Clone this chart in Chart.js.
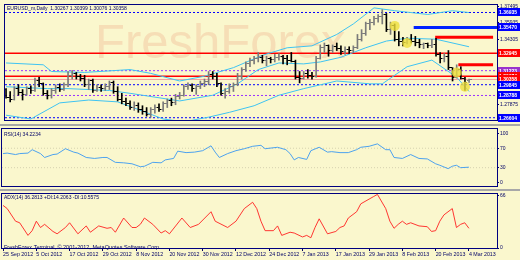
<!DOCTYPE html>
<html>
<head>
<meta charset="utf-8">
<script src="https://cdn.jsdelivr.net/npm/chart.js@4.4.1/dist/chart.umd.min.js"></script>
<style>
  body { margin: 0; width: 520px; height: 260px; overflow: hidden; position: relative; background: #FAF7CD; }
  canvas { position: absolute; left: 0; }
  #main { top: 0; }
  #rsi { top: 125px; }
  #adx { top: 190px; }
  .sep { position: absolute; left: 0; width: 520px; height: 2px; background: #A8A8A8; }
</style>
</head>
<body>
<div class="sep" style="top:124px"></div>
<div class="sep" style="top:189px"></div>
<canvas id="main" width="520" height="125"></canvas>
<canvas id="rsi" width="520" height="65"></canvas>
<canvas id="adx" width="520" height="70"></canvas>
<script>
// ---- data ----
const tickBars = [0, 8, 16, 24, 32, 40, 48, 56, 64, 72, 80, 88, 96, 104, 112];
const tickLabels = ['25 Sep 2012', '5 Oct 2012', '17 Oct 2012', '29 Oct 2012', '8 Nov 2012', '20 Nov 2012',
  '30 Nov 2012', '12 Dec 2012', '24 Dec 2012', '7 Jan 2013', '17 Jan 2013', '29 Jan 2013',
  '8 Feb 2013', '20 Feb 2013', '4 Mar 2013'];

const opens = [
  1.2937, 1.2862, 1.2844, 1.2946, 1.2909, 1.2890, 1.2946, 1.2928, 1.3021, 1.2993,
  1.2900, 1.2881, 1.2928, 1.2956, 1.2937, 1.2984, 1.3077, 1.3096, 1.3068, 1.3049,
  1.2984, 1.3021, 1.2928, 1.2956, 1.2946, 1.2965, 1.3002, 1.2918, 1.2844, 1.2816,
  1.2797, 1.2760, 1.2778, 1.2741, 1.2722, 1.2694, 1.2741, 1.2760, 1.2741, 1.2797,
  1.2825, 1.2806, 1.2872, 1.2881, 1.2965, 1.2974, 1.2946, 1.2965, 1.2993, 1.3012,
  1.3086, 1.3068, 1.2993, 1.2900, 1.2918, 1.2965, 1.2984, 1.3068, 1.3133, 1.3189,
  1.3226, 1.3245, 1.3254, 1.3226, 1.3245, 1.3236, 1.3254, 1.3264, 1.3245, 1.3226,
  1.3217, 1.3058, 1.3049, 1.3096, 1.3077, 1.3068, 1.3245, 1.3347, 1.3366, 1.3320,
  1.3357, 1.3338, 1.3310, 1.3329, 1.3320, 1.3347, 1.3431, 1.3487, 1.3581, 1.3599,
  1.3637, 1.3655, 1.3674, 1.3525, 1.3562, 1.3431, 1.3413, 1.3403, 1.3431, 1.3413,
  1.3394, 1.3375, 1.3385, 1.3366, 1.3375, 1.3282, 1.3245, 1.3264, 1.3152, 1.3058,
  1.3133, 1.3049, 1.3027];
const highs = [
  1.2946, 1.2918, 1.2965, 1.2984, 1.2937, 1.2965, 1.2974, 1.3049, 1.3058, 1.3002,
  1.2928, 1.2946, 1.2984, 1.2993, 1.3002, 1.3114, 1.3124, 1.3105, 1.3086, 1.3077,
  1.3040, 1.3040, 1.2984, 1.2984, 1.2993, 1.3021, 1.3021, 1.2965, 1.2900, 1.2853,
  1.2825, 1.2816, 1.2806, 1.2778, 1.2760, 1.2760, 1.2788, 1.2797, 1.2816, 1.2844,
  1.2853, 1.2890, 1.2909, 1.2984, 1.3002, 1.2993, 1.2984, 1.3021, 1.3040, 1.3114,
  1.3114, 1.3096, 1.3002, 1.2946, 1.2993, 1.3002, 1.3096, 1.3152, 1.3208, 1.3245,
  1.3264, 1.3301, 1.3273, 1.3264, 1.3254, 1.3282, 1.3291, 1.3273, 1.3273, 1.3301,
  1.3226, 1.3114, 1.3114, 1.3133, 1.3105, 1.3264, 1.3375, 1.3394, 1.3375, 1.3375,
  1.3394, 1.3366, 1.3357, 1.3357, 1.3366, 1.3478, 1.3525, 1.3599, 1.3627, 1.3655,
  1.3674, 1.3721, 1.3684, 1.3599, 1.3581, 1.3506, 1.3450, 1.3450, 1.3478, 1.3459,
  1.3431, 1.3394, 1.3394, 1.3431, 1.3441, 1.3301, 1.3291, 1.3320, 1.3152, 1.3180,
  1.3161, 1.3058, 1.3040];
const lows = [
  1.2853, 1.2816, 1.2834, 1.2881, 1.2834, 1.2881, 1.2900, 1.2918, 1.2965, 1.2881,
  1.2844, 1.2853, 1.2900, 1.2918, 1.2928, 1.2965, 1.3040, 1.3040, 1.3021, 1.2965,
  1.2937, 1.2909, 1.2918, 1.2918, 1.2928, 1.2937, 1.2900, 1.2825, 1.2797, 1.2778,
  1.2741, 1.2732, 1.2713, 1.2694, 1.2676, 1.2666, 1.2704, 1.2722, 1.2722, 1.2760,
  1.2778, 1.2788, 1.2844, 1.2872, 1.2937, 1.2918, 1.2890, 1.2946, 1.2965, 1.2984,
  1.3040, 1.2965, 1.2881, 1.2853, 1.2900, 1.2918, 1.2974, 1.3040, 1.3114, 1.3161,
  1.3189, 1.3208, 1.3198, 1.3170, 1.3198, 1.3208, 1.3226, 1.3189, 1.3180, 1.3208,
  1.3040, 1.3002, 1.3040, 1.3049, 1.3040, 1.3058, 1.3236, 1.3301, 1.3264, 1.3301,
  1.3320, 1.3282, 1.3282, 1.3291, 1.3301, 1.3338, 1.3413, 1.3469, 1.3525, 1.3571,
  1.3599, 1.3581, 1.3506, 1.3478, 1.3413, 1.3366, 1.3366, 1.3385, 1.3394, 1.3366,
  1.3347, 1.3338, 1.3347, 1.3347, 1.3264, 1.3198, 1.3208, 1.3133, 1.3021, 1.3049,
  1.3040, 1.2928, 1.3008];
const closes = [
  1.2862, 1.2844, 1.2946, 1.2909, 1.2890, 1.2946, 1.2928, 1.3021, 1.2993, 1.2900,
  1.2881, 1.2928, 1.2956, 1.2937, 1.2984, 1.3077, 1.3096, 1.3068, 1.3049, 1.2984,
  1.3021, 1.2928, 1.2956, 1.2946, 1.2965, 1.3002, 1.2918, 1.2844, 1.2816, 1.2797,
  1.2760, 1.2778, 1.2741, 1.2722, 1.2694, 1.2741, 1.2760, 1.2741, 1.2797, 1.2825,
  1.2806, 1.2872, 1.2881, 1.2965, 1.2974, 1.2946, 1.2965, 1.2993, 1.3012, 1.3086,
  1.3068, 1.2993, 1.2900, 1.2918, 1.2965, 1.2984, 1.3068, 1.3133, 1.3189, 1.3226,
  1.3245, 1.3254, 1.3226, 1.3245, 1.3236, 1.3254, 1.3264, 1.3245, 1.3226, 1.3217,
  1.3058, 1.3049, 1.3096, 1.3077, 1.3068, 1.3245, 1.3347, 1.3366, 1.3320, 1.3357,
  1.3338, 1.3310, 1.3329, 1.3320, 1.3347, 1.3431, 1.3487, 1.3581, 1.3599, 1.3637,
  1.3655, 1.3674, 1.3525, 1.3562, 1.3431, 1.3413, 1.3403, 1.3431, 1.3413, 1.3394,
  1.3375, 1.3385, 1.3366, 1.3375, 1.3282, 1.3245, 1.3264, 1.3152, 1.3058, 1.3133,
  1.3049, 1.3002, 1.3036];

// bollinger bands, sampled where they could be read
const upperIdx = [0, 9, 11, 19, 30, 35, 42, 48, 55, 62, 68, 74, 80, 84, 89, 94, 102, 108, 112];
const upperVals = [1.3198, 1.3180, 1.3114, 1.3105, 1.3133, 1.3096, 1.3021, 1.3068, 1.3152, 1.3273,
  1.3347, 1.3366, 1.3478, 1.3581, 1.3739, 1.3711, 1.3674, 1.3711, 1.3693];
const middleIdx = [0, 10, 15, 25, 30, 42, 50, 56, 61, 66, 72, 76, 81, 87, 92, 97, 104, 112];
const middleVals = [1.2965, 1.2946, 1.2946, 1.2928, 1.2900, 1.2825, 1.2881, 1.2993, 1.3133, 1.3198,
  1.3189, 1.3208, 1.3254, 1.3347, 1.3413, 1.3441, 1.3431, 1.3357];
const lowerIdx = [0, 6, 13, 20, 27, 32, 38, 43, 49, 54, 60, 66, 72, 80, 88, 91, 97, 103, 109, 112];
const lowerVals = [1.2685, 1.2648, 1.2806, 1.2834, 1.2816, 1.2741, 1.2648, 1.2620, 1.2666, 1.2713,
  1.2778, 1.2881, 1.2946, 1.3021, 1.2993, 1.2993, 1.3161, 1.3226, 1.3058, 1.2918];

// fractal markers
const circleIdx = [94, 97, 109, 111];
const circleVals = [1.3562, 1.3394, 1.3105, 1.2965];

// horizontal levels
const levelPrices = [1.36935, 1.35470, 1.34500, 1.32945, 1.31800, 1.31223, 1.30674, 1.30358, 1.29845, 1.28788, 1.26604];
const levelFrom = [-0.25, 98.6, 103.8, -0.25, 109.4, -0.25, -0.25, -0.25, -0.25, -0.25, -0.25];
const levelTo = [118.75, 118.75, 117.8, 118.75, 117.8, 118.75, 118.75, 118.75, 118.75, 118.75, 118.75];
const priceTicks = [1.37495, 1.35935, 1.34305, 1.27875];

const rsiIdx = [0, 1, 3, 4, 6, 7, 9, 10, 12, 13, 15, 17, 18, 20, 22, 24, 25, 27, 29, 31,
  33, 34, 36, 38, 39, 41, 42, 44, 46, 48, 50, 51, 52, 54, 56, 58, 60, 62, 63, 66,
  68, 69, 70, 71, 73, 74, 76, 78, 79, 81, 83, 85, 86, 88, 90, 92, 93, 94, 96, 98,
  100, 102, 104, 105, 107, 108, 109, 110, 112];
const rsiVals = [59, 60, 57, 59, 60, 67, 59, 51, 57, 58, 69, 62, 60, 51, 49, 51, 51, 41, 40, 38,
  32, 33, 41, 40, 46, 49, 64, 61, 62, 65, 75, 62, 51, 59, 65, 69, 74, 76, 69, 72,
  67, 59, 46, 51, 47, 65, 72, 62, 63, 61, 61, 67, 72, 74, 79, 67, 67, 51, 49, 57,
  49, 48, 38, 35, 28, 33, 35, 30, 31];
const rsiLevels = [70, 30];
const rsiTicks = [100, 70, 30, 0];

const adxIdx = [0, 1, 3, 4, 6, 7, 8, 9, 10, 12, 13, 15, 16, 18, 20, 21, 23, 25, 26, 27,
  29, 31, 32, 33, 34, 36, 38, 39, 40, 43, 45, 47, 50, 51, 54, 56, 58, 60, 61, 62,
  63, 65, 66, 67, 69, 70, 72, 73, 74, 75, 76, 78, 80, 81, 82, 83, 85, 86, 88, 89,
  90, 92, 93, 94, 95, 96, 97, 98, 100, 102, 103, 104, 105, 106, 108, 109, 110, 111, 112];
const adxVals = [54, 50, 34, 32, 16, 22, 34, 26, 30, 21, 18, 26, 32, 18, 28, 20, 28, 25, 26, 20,
  38, 26, 26, 30, 38, 30, 19, 22, 18, 38, 26, 30, 46, 34, 26, 34, 50, 58, 50, 34,
  22, 22, 28, 16, 20, 19, 14, 16, 13, 26, 37, 18, 21, 26, 28, 38, 46, 56, 62, 65,
  68, 50, 34, 25, 30, 34, 30, 32, 28, 27, 21, 22, 34, 42, 50, 26, 30, 32, 25];
const adxTicks = [66, 0];

// ---- styles ----
const font = '"Liberation Sans", Arial, sans-serif';
const navy = '#000066';
const bullColor = '#7A7A7A';
const bearColor = '#000000';
const bandColor = '#3EC3F2';
const levelStyles = [
  { color: '#0000FF', width: 1, dash: [2, 2], box: '#0000FF' },
  { color: '#0022FF', width: 3, dash: [], box: '#0000FF' },
  { color: '#FF0000', width: 3, dash: [], box: null },
  { color: '#FF0000', width: 1.5, dash: [], box: '#FF0000' },
  { color: '#FF0000', width: 3, dash: [], box: null },
  { color: '#9933FF', width: 1, dash: [2, 2], box: '#9933CC' },
  { color: '#FF0000', width: 1.5, dash: [], box: '#FF0000' },
  { color: '#F2A0A0', width: 1, dash: [], box: '#FF0000' },
  { color: '#0000FF', width: 1, dash: [2, 2], box: '#0000FF' },
  { color: '#9933FF', width: 1, dash: [2, 2], box: '#0000FF' },
  { color: '#0000FF', width: 1, dash: [2, 2], box: '#0000FF' }
];

Chart.defaults.font.family = font;
const xMin = -0.25, xMax = 118.75;

const pts = (xs, ys) => xs.map((x, k) => ({ x: x, y: ys[k] }));
const bull = closes.map((c, i) => c >= opens[i]);

function tickImage(color, left) {
  const c = document.createElement('canvas');
  c.width = 5; c.height = 1;
  const g = c.getContext('2d');
  g.fillStyle = color;
  g.fillRect(left ? 0 : 3, 0, 2, 1);
  return c;
}
const openImg = { bull: tickImage(bullColor, true), bear: tickImage(bearColor, true) };
const closeImg = { bull: tickImage(bullColor, false), bear: tickImage(bearColor, false) };

// frame, captions, watermark and price boxes
const panelPlugin = {
  id: 'panel',
  beforeDatasetsDraw(chart, args, opts) {
    if (!opts.watermark) return;
    const ctx = chart.ctx;
    ctx.save();
    ctx.font = '49px ' + font;
    ctx.fillStyle = '#F6DEB6';
    ctx.textBaseline = 'alphabetic';
    ctx.fillText(opts.watermark, 95, 58);
    ctx.restore();
  },
  afterDraw(chart, args, opts) {
    const { ctx, chartArea: a, scales } = chart;
    ctx.save();
    ctx.strokeStyle = '#000080';
    ctx.lineWidth = 1;
    ctx.strokeRect(a.left - 0.5, a.top - 0.5, a.right - a.left + 1, a.bottom - a.top + 1);
    (opts.texts || []).forEach(t => {
      ctx.font = t.size + 'px ' + font;
      ctx.fillStyle = navy;
      ctx.textBaseline = 'top';
      ctx.fillText(t.text, a.left + t.dx, a.top + t.dy);
    });
    (opts.boxes || []).forEach(b => {
      const y = Math.round(scales.y.getPixelForValue(b.value));
      ctx.fillStyle = b.color;
      ctx.fillRect(a.right + 1, y - 4, 22, 8);
      ctx.fillStyle = '#FFFFFF';
      ctx.font = 'bold 5px ' + font;
      ctx.textBaseline = 'middle';
      ctx.fillText(b.value.toFixed(5), a.right + 2, y + 0.5);
    });
    ctx.restore();
  }
};

function hiddenX() {
  return { type: 'linear', min: xMin, max: xMax, offset: false, display: false };
}

function rightY(min, max, ticks, fmt) {
  return {
    type: 'linear', position: 'right', min: min, max: max, offset: false,
    afterFit: s => { s.width = 23; },
    afterBuildTicks: s => { s.ticks = ticks.map(v => ({ value: v })); },
    grid: { display: true, drawOnChartArea: false, drawTicks: true, tickLength: 2, color: navy },
    border: { display: false },
    ticks: { font: { size: 5 }, color: navy, padding: 1, autoSkip: false, callback: fmt }
  };
}

const baseOptions = {
  responsive: false, animation: false, events: [], devicePixelRatio: 1,
  plugins: { legend: { display: false }, tooltip: { enabled: false } }
};

// ---- main price panel ----
let mainSets = [
  { type: 'line', data: pts(circleIdx, circleVals), showLine: false, pointRadius: 5,
    pointBackgroundColor: 'rgba(238,222,60,0.8)', pointBorderWidth: 0, order: 0 },
  { type: 'line', data: opens.map((v, i) => ({ x: i, y: v })), showLine: false, pointRadius: 2,
    pointStyle: c => c.dataIndex === undefined ? 'circle' : (bull[c.dataIndex] ? openImg.bull : openImg.bear), order: 1 },
  { type: 'line', data: closes.map((v, i) => ({ x: i, y: v })), showLine: false, pointRadius: 2,
    pointStyle: c => c.dataIndex === undefined ? 'circle' : (bull[c.dataIndex] ? closeImg.bull : closeImg.bear), order: 1 },
  { type: 'bar', data: highs.map((h, i) => ({ x: i, y: [lows[i], h] })), barThickness: 1, grouped: false,
    backgroundColor: c => bull[c.dataIndex] ? bullColor : bearColor, borderWidth: 0, order: 2 }
];
[[upperIdx, upperVals], [middleIdx, middleVals], [lowerIdx, lowerVals]].forEach(b => {
  mainSets.push({ type: 'line', data: pts(b[0], b[1]), borderColor: bandColor, borderWidth: 1,
    pointRadius: 0, tension: 0, order: 3 });
});
levelPrices.forEach((p, k) => {
  const st = levelStyles[k];
  mainSets.push({ type: 'line', data: [{ x: levelFrom[k], y: p }, { x: levelTo[k], y: p }],
    borderColor: st.color, borderWidth: st.width, borderDash: st.dash, pointRadius: 0, order: 4 });
});

new Chart(document.getElementById('main'), {
  type: 'line',
  data: { datasets: mainSets },
  options: Object.assign({}, baseOptions, {
    layout: { padding: { left: 2, top: 2, bottom: 2, right: 0 } },
    scales: { x: hiddenX(), y: rightY(1.2638, 1.3767, priceTicks, v => v.toFixed(5)) },
    plugins: Object.assign({}, baseOptions.plugins, {
      panel: {
        watermark: 'FreshForex',
        texts: [{ text: 'EURUSD_m,Daily  1.30267 1.30399 1.30076 1.30358', size: 5, dx: 2, dy: 1 }],
        boxes: levelPrices.map((p, k) => ({ value: p, color: levelStyles[k].box })).filter(b => b.color)
      }
    })
  }),
  plugins: [panelPlugin]
});

// ---- RSI panel ----
let rsiSets = [
  { data: pts(rsiIdx, rsiVals), borderColor: '#3A98F2', borderWidth: 0.9, pointRadius: 0, tension: 0, order: 0 }
];
rsiLevels.forEach(v => {
  rsiSets.push({ data: [{ x: xMin, y: v }, { x: xMax, y: v }], borderColor: '#D6D2B0', borderWidth: 1,
    borderDash: [1, 2], pointRadius: 0, order: 1 });
});
new Chart(document.getElementById('rsi'), {
  type: 'line',
  data: { datasets: rsiSets },
  options: Object.assign({}, baseOptions, {
    layout: { padding: { left: 2, top: 2, bottom: 2, right: 0 } },
    scales: { x: hiddenX(), y: rightY(-7.7, 109.6, rsiTicks, v => String(v)) },
    plugins: Object.assign({}, baseOptions.plugins, {
      panel: { texts: [{ text: 'RSI(14) 34.2234', size: 5, dx: 2, dy: 3 }] }
    })
  }),
  plugins: [panelPlugin]
});

// ---- ADX panel with the date axis ----
new Chart(document.getElementById('adx'), {
  type: 'line',
  data: { datasets: [
    { data: pts(adxIdx, adxVals), borderColor: '#FF2020', borderWidth: 0.9, pointRadius: 0, tension: 0 }
  ] },
  options: Object.assign({}, baseOptions, {
    layout: { padding: { left: 2, top: 2, bottom: 0, right: 0 } },
    scales: {
      x: {
        type: 'linear', min: xMin, max: xMax, offset: false, position: 'bottom',
        afterFit: s => { s.height = 12; },
        afterBuildTicks: s => { s.ticks = tickBars.map(v => ({ value: v })); },
        grid: { display: true, drawOnChartArea: false, drawTicks: true, tickLength: 3, color: navy, offset: false },
        border: { display: false },
        ticks: { font: { size: 5.3 }, color: navy, padding: 0, align: 'start', maxRotation: 0, autoSkip: false,
          callback: v => tickLabels[tickBars.indexOf(v)] }
      },
      y: rightY(0, 68.5, adxTicks, v => String(v))
    },
    plugins: Object.assign({}, baseOptions.plugins, {
      panel: { texts: [
        { text: 'ADX(14) 36.2813 +DI:14.2063 -DI:10.5575', size: 5, dx: 2, dy: 1 },
        { text: 'FreshForex Terminal, \u00A9 2001-2012, MetaQuotes Software Corp.', size: 5.5, dx: 2, dy: 51 }
      ] }
    })
  }),
  plugins: [panelPlugin]
});
</script>
</body>
</html>
